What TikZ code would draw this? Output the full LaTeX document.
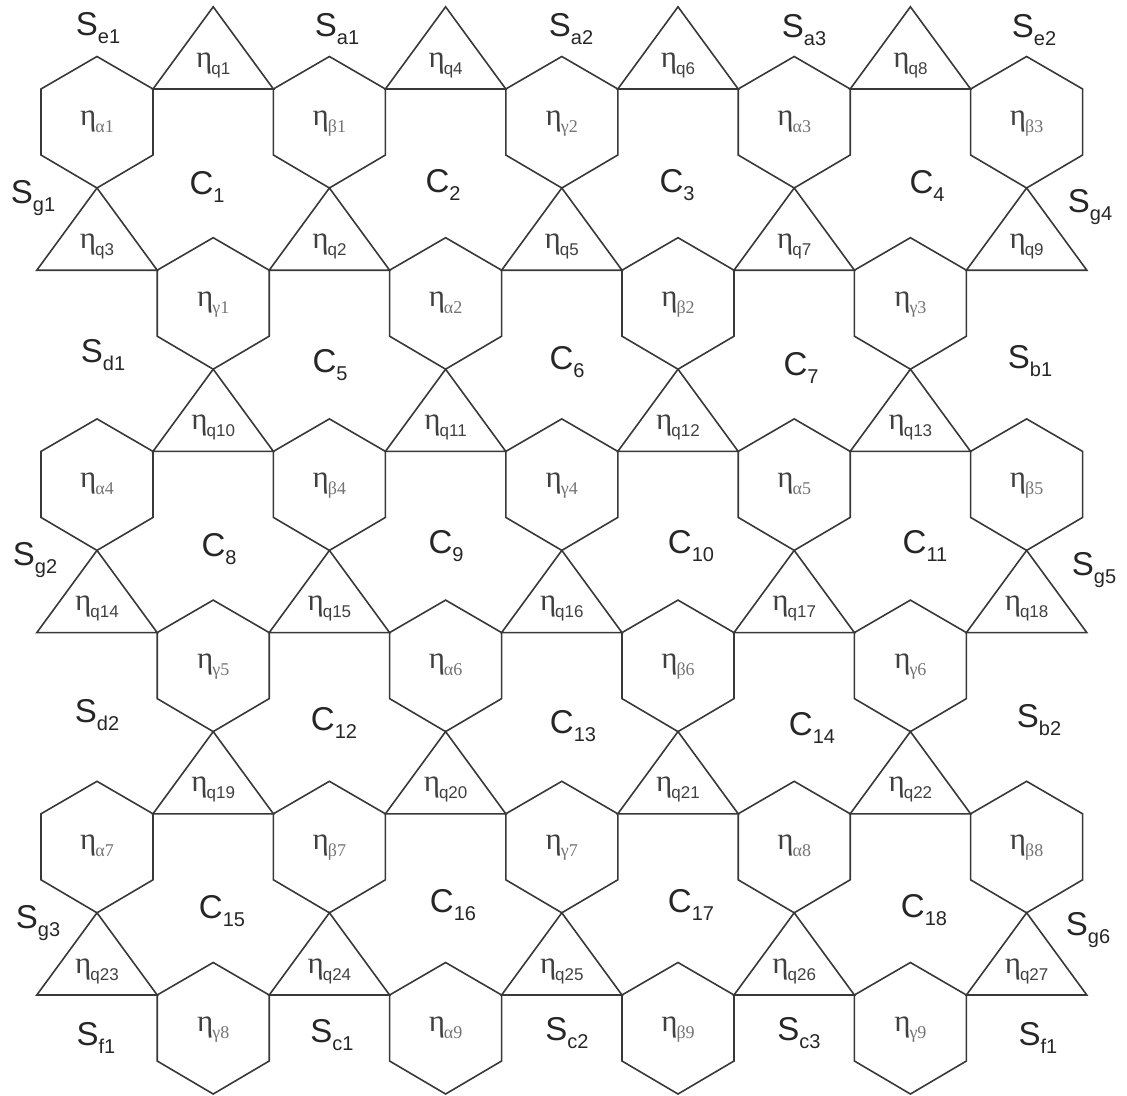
\documentclass[tikz,border=0pt]{standalone}
\usepackage{fontspec}
\newfontfamily\sflab{Liberation Sans}
\newfontfamily\serlab{Liberation Serif}
\newcommand{\SL}[2]{{\sflab\fontsize{33}{33}\selectfont #1\raisebox{-8pt}{\fontsize{20}{20}\selectfont #2}}}
\newcommand{\EQ}[1]{{\serlab\fontsize{31}{31}\selectfont η\kern-1pt\raisebox{-7pt}{\sflab\fontsize{17}{17}\selectfont #1}}}
\newcommand{\EG}[1]{{\serlab\fontsize{31}{31}\selectfont η\kern-1pt\raisebox{-7pt}{\color{black!55}\fontsize{18}{18}\selectfont #1}}}
\begin{document}
\begin{tikzpicture}[x=1pt,y=-1pt,
  shapeline/.style={draw=black!78,line width=1.6pt,line join=miter},
  hexa/.pic={\draw[shapeline] (0,-32.5) -- (56,0) -- (56,66) -- (0,99) -- (-56,66) -- (-56,0) -- cycle;},
  tria/.pic={\draw[shapeline] (-60.2,0) -- (60.2,0) -- (0,-82.2) -- cycle;},
  elab/.style={anchor=base,inner sep=0pt,text=black!75},
  rlab/.style={anchor=base,inner sep=0pt,text=black!85}]
\useasboundingbox (0,0) rectangle (1127,1095);
% shapes
\foreach \k in {0,2,4} {
  \foreach \i in {0,...,4} { \pic at ({97+232.4*\i},{89+181.2*\k}) {hexa}; }
  \foreach \i in {0,...,3} { \pic at ({213.2+232.4*\i},{89+181.2*\k}) {tria}; }
}
\foreach \k in {1,3,5} {
  \foreach \i in {0,...,3} { \pic at ({213.2+232.4*\i},{89+181.2*\k}) {hexa}; }
  \foreach \i in {0,...,4} { \pic at ({97+232.4*\i},{89+181.2*\k}) {tria}; }
}
% hexagon labels
\foreach \g/\n [count=\i from 0] in {α/1,β/1,γ/2,α/3,β/3}
  \node[elab] (hA\i) at ({97+232.4*\i},{89+36}) {\EG{\g\n}};
\foreach \g/\n [count=\i from 0] in {γ/1,α/2,β/2,γ/3}
  \node[elab] (hB\i) at ({213.2+232.4*\i},{89+181.2+36}) {\EG{\g\n}};
\foreach \g/\n [count=\i from 0] in {α/4,β/4,γ/4,α/5,β/5}
  \node[elab] (hC\i) at ({97+232.4*\i},{89+2*181.2+36}) {\EG{\g\n}};
\foreach \g/\n [count=\i from 0] in {γ/5,α/6,β/6,γ/6}
  \node[elab] (hD\i) at ({213.2+232.4*\i},{89+3*181.2+36}) {\EG{\g\n}};
\foreach \g/\n [count=\i from 0] in {α/7,β/7,γ/7,α/8,β/8}
  \node[elab] (hE\i) at ({97+232.4*\i},{89+4*181.2+36}) {\EG{\g\n}};
\foreach \g/\n [count=\i from 0] in {γ/8,α/9,β/9,γ/9}
  \node[elab] (hF\i) at ({213.2+232.4*\i},{89+5*181.2+36}) {\EG{\g\n}};
% triangle labels
\foreach \n [count=\i from 0] in {1,4,6,8}
  \node[elab] (tA\i) at ({213.2+232.4*\i},{89-22}) {\EQ{q\n}};
\foreach \n [count=\i from 0] in {3,2,5,7,9}
  \node[elab] (tB\i) at ({97+232.4*\i},{89+181.2-22}) {\EQ{q\n}};
\foreach \n [count=\i from 0] in {10,11,12,13}
  \node[elab] (tC\i) at ({213.2+232.4*\i},{89+2*181.2-22}) {\EQ{q\n}};
\foreach \n [count=\i from 0] in {14,15,16,17,18}
  \node[elab] (tD\i) at ({97+232.4*\i},{89+3*181.2-22}) {\EQ{q\n}};
\foreach \n [count=\i from 0] in {19,20,21,22}
  \node[elab] (tE\i) at ({213.2+232.4*\i},{89+4*181.2-22}) {\EQ{q\n}};
\foreach \n [count=\i from 0] in {23,24,25,26,27}
  \node[elab] (tF\i) at ({97+232.4*\i},{89+5*181.2-22}) {\EQ{q\n}};
% cell labels
\foreach \n/\x/\y in {1/207/194,2/443/192,3/677/192,4/927/193,
  5/330/372,6/567/369,7/801/375,
  8/219/556,9/446/553,10/691/553,11/925/553,
  12/334/730,13/573/733,14/812/735,
  15/222/918,16/453/912,17/691/912,18/924/917}
  \node[rlab] (c\n) at (\x,\y) {\SL{C}{\n}};
% outer region labels
\foreach \nm/\s/\x/\y in {se1/e1/98/35, sa1/a1/337/36, sa2/a2/571/36, sa3/a3/804/37, se2/e2/1034/37,
  sg1/g1/33/203, sg4/g4/1090/212, sd1/d1/103/362, sb1/b1/1030/368,
  sg2/g2/35/565, sg5/g5/1094/575, sd2/d2/97/722, sb2/b2/1039/727,
  sg3/g3/38/928, sg6/g6/1088/935,
  sf1/f1/96/1045, sc1/c1/332/1042, sc2/c2/567/1040, sc3/c3/799/1040, sf2/f1/1038/1045}
  \node[rlab] (\nm) at (\x,\y) {\SL{S}{\s}};
\end{tikzpicture}
\end{document}
